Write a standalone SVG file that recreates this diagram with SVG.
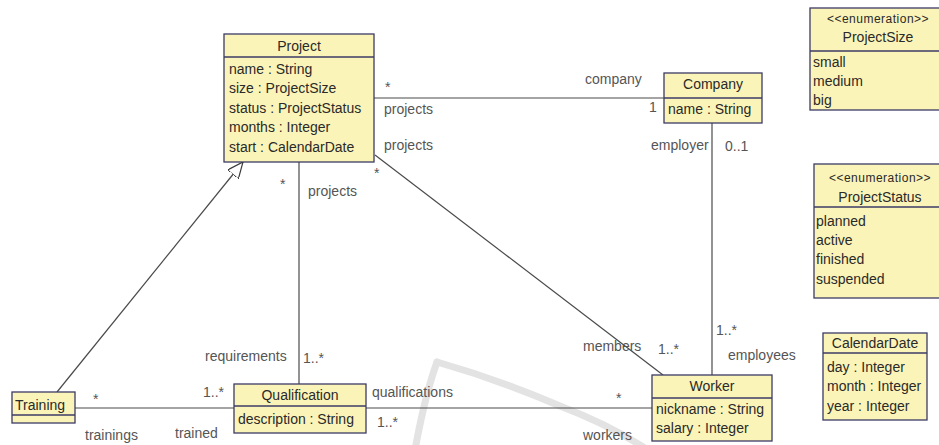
<svg xmlns="http://www.w3.org/2000/svg" width="939" height="445" viewBox="0 0 939 445">
  <style>
    text { font-family: "Liberation Sans", Arial, sans-serif; font-size: 14px; fill: #2a2a2a; }
    .lbl { fill: #555; }
    .title { text-anchor: middle; }
    .stereo { font-size: 12px; letter-spacing: 0.5px; text-anchor: middle; }
    .box { fill: #fbf4b8; stroke: #3b3b66; stroke-width: 1.3; }
    .sep { stroke: #3b3b66; stroke-width: 1.3; }
    .edge { fill: none; stroke: #4a4a4a; stroke-width: 1.2; }
    .mark { fill: none; stroke: #e3e3e3; stroke-width: 7; stroke-linecap: round; }
  </style>
  <defs>
    <marker id="gen" viewBox="0 0 16 14" refX="16" refY="7" markerWidth="16" markerHeight="14" markerUnits="userSpaceOnUse" orient="auto">
      <path d="M0,0 L16,7 L0,14 Z" fill="#fff" stroke="#3a3a3a" stroke-width="1.2"/>
    </marker>
  </defs>

  <rect width="939" height="445" fill="#fff"/>

  <!-- faint background logo strokes -->
  <g id="backdrop">
    <path class="mark" d="M415,450 Q425,395 437,362"/>
    <path class="mark" d="M437,362 Q500,380 560,406 Q610,425 648,450"/>
  </g>

  <!-- associations and generalization -->
  <g id="connectors">
    <line class="edge" x1="374" y1="98" x2="664" y2="98"/>
    <line class="edge" x1="712" y1="123" x2="712" y2="375"/>
    <line class="edge" x1="375" y1="155" x2="663" y2="375"/>
    <line class="edge" x1="299" y1="162" x2="299" y2="384"/>
    <line class="edge" x1="366" y1="408" x2="652" y2="408"/>
    <line class="edge" x1="75" y1="408" x2="234" y2="408"/>
    <line class="edge" x1="57" y1="392" x2="243" y2="162" marker-end="url(#gen)"/>

    <text class="lbl" x="385" y="92">*</text>
    <text class="lbl" x="585" y="84">company</text>
    <text class="lbl" x="384" y="114">projects</text>
    <text class="lbl" x="649" y="112">1</text>
    <text class="lbl" x="384" y="150">projects</text>
    <text class="lbl" x="651" y="150">employer</text>
    <text class="lbl" x="725" y="151">0..1</text>
    <text class="lbl" x="280" y="189">*</text>
    <text class="lbl" x="308" y="196">projects</text>
    <text class="lbl" x="374" y="178">*</text>
    <text class="lbl" x="205" y="361">requirements</text>
    <text class="lbl" x="303" y="363">1..*</text>
    <text class="lbl" x="583" y="351">members</text>
    <text class="lbl" x="658" y="354">1..*</text>
    <text class="lbl" x="716" y="335">1..*</text>
    <text class="lbl" x="728" y="360">employees</text>
    <text class="lbl" x="93" y="404">*</text>
    <text class="lbl" x="203" y="397">1..*</text>
    <text class="lbl" x="85" y="440">trainings</text>
    <text class="lbl" x="175" y="438">trained</text>
    <text class="lbl" x="372" y="397">qualifications</text>
    <text class="lbl" x="377" y="427">1..*</text>
    <text class="lbl" x="616" y="403">*</text>
    <text class="lbl" x="583" y="440">workers</text>
  </g>

  <g id="project">
    <rect class="box" x="224" y="34" width="150" height="128"/>
    <line class="sep" x1="224" y1="57" x2="374" y2="57"/>
    <text class="title" x="299" y="51">Project</text>
    <text x="229" y="74">name : String</text>
    <text x="229" y="93">size : ProjectSize</text>
    <text x="229" y="113">status : ProjectStatus</text>
    <text x="229" y="132">months : Integer</text>
    <text x="229" y="152">start : CalendarDate</text>
  </g>

  <g id="company">
    <rect class="box" x="664" y="73" width="98" height="50"/>
    <line class="sep" x1="664" y1="98" x2="762" y2="98"/>
    <text class="title" x="713" y="89">Company</text>
    <text x="668" y="114">name : String</text>
  </g>

  <g id="worker">
    <rect class="box" x="652" y="375" width="120" height="66"/>
    <line class="sep" x1="652" y1="398" x2="772" y2="398"/>
    <text class="title" x="712" y="391">Worker</text>
    <text x="656" y="414">nickname : String</text>
    <text x="656" y="433">salary : Integer</text>
  </g>

  <g id="qualification">
    <rect class="box" x="234" y="384" width="132" height="49"/>
    <line class="sep" x1="234" y1="406" x2="366" y2="406"/>
    <text class="title" x="300" y="400">Qualification</text>
    <text x="238" y="424">description : String</text>
  </g>

  <g id="training">
    <rect class="box" x="12" y="392" width="63" height="31"/>
    <line class="sep" x1="12" y1="415" x2="75" y2="415"/>
    <text x="15" y="410">Training</text>
  </g>

  <g id="project-size">
    <rect class="box" x="810" y="8" width="140" height="102"/>
    <line class="sep" x1="810" y1="51" x2="950" y2="51"/>
    <text class="stereo" x="878" y="23">&lt;&lt;enumeration&gt;&gt;</text>
    <text class="title" x="878" y="42">ProjectSize</text>
    <text x="813" y="67">small</text>
    <text x="813" y="86">medium</text>
    <text x="813" y="105">big</text>
  </g>

  <g id="project-status">
    <rect class="box" x="814" y="164" width="136" height="134"/>
    <line class="sep" x1="814" y1="207" x2="950" y2="207"/>
    <text class="stereo" x="880" y="182">&lt;&lt;enumeration&gt;&gt;</text>
    <text class="title" x="880" y="202">ProjectStatus</text>
    <text x="816" y="226">planned</text>
    <text x="816" y="245">active</text>
    <text x="816" y="264">finished</text>
    <text x="816" y="284">suspended</text>
  </g>

  <g id="calendar-date">
    <rect class="box" x="823" y="333" width="104" height="87"/>
    <line class="sep" x1="823" y1="353" x2="927" y2="353"/>
    <text class="title" x="875" y="348">CalendarDate</text>
    <text x="827" y="372">day : Integer</text>
    <text x="827" y="391">month : Integer</text>
    <text x="827" y="411">year : Integer</text>
  </g>
</svg>
